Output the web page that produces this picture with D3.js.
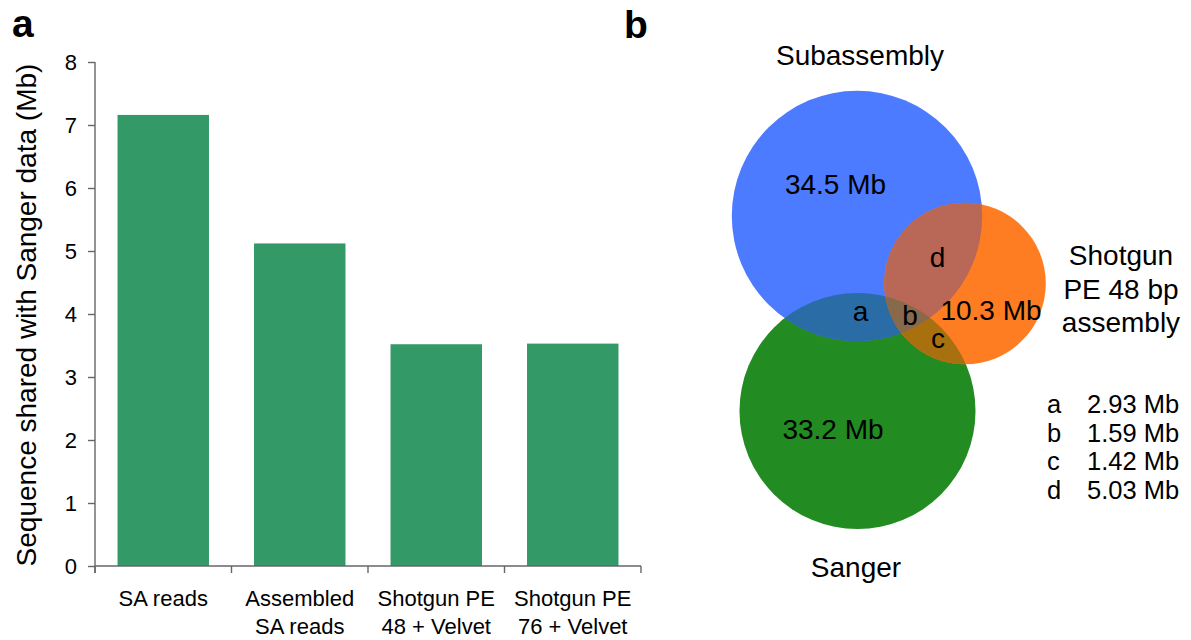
<!DOCTYPE html>
<html>
<head>
<meta charset="utf-8">
<script src="https://cdn.jsdelivr.net/npm/d3@7"></script>
<style>
  body { margin: 0; background: #fff; }
  text { font-family: "Liberation Sans", Arial, sans-serif; fill: #000; }
</style>
</head>
<body>
<svg id="fig" width="1191" height="640"></svg>
<script>
// ---- Panel a: sequence shared with Sanger data ----
const categories = ["SA reads", "Assembled SA reads", "Shotgun PE 48 + Velvet", "Shotgun PE 76 + Velvet"];
const categoryLines = [["SA reads"], ["Assembled", "SA reads"], ["Shotgun PE", "48 + Velvet"], ["Shotgun PE", "76 + Velvet"]];
const sharedMb = [7.16, 5.12, 3.52, 3.53];
const yTicks = [0, 1, 2, 3, 4, 5, 6, 7, 8];
const yTitle = "Sequence shared with Sanger data (Mb)";

// ---- Panel b: three-way overlap ----
const vennSets = ["Subassembly", "Sanger", "Shotgun PE 48 bp assembly"];
const vennSetLines = [["Subassembly"], ["Sanger"], ["Shotgun", "PE 48 bp", "assembly"]];
const uniqueMb = [34.5, 33.2, 10.3];
const overlapKeys = ["a", "b", "c", "d"];
const overlapMb = [2.93, 1.59, 1.42, 5.03];
const overlapMembers = [[0, 1], [0, 1, 2], [1, 2], [0, 2]];

const svg = d3.select("#fig");
const axisColor = "#666";

// ---------- bar chart ----------
const x = d3.scaleBand().domain(categories).range([95, 641])
  .paddingInner(0.33).paddingOuter(0.165);
const y = d3.scaleLinear().domain([0, 8]).range([566, 62]);

const gA = svg.append("g");

gA.selectAll("rect.bar").data(categories).join("rect")
  .attr("class", "bar")
  .attr("x", d => x(d))
  .attr("width", x.bandwidth())
  .attr("y", (d, i) => y(sharedMb[i]))
  .attr("height", (d, i) => y(0) - y(sharedMb[i]))
  .attr("fill", "#339966");

const yAxis = gA.append("g").attr("transform", "translate(95,0)")
  .call(d3.axisLeft(y).tickValues(yTicks).tickFormat(d3.format("d"))
    .tickSize(7).tickSizeOuter(0).tickPadding(11));
yAxis.select(".domain").attr("stroke", axisColor).attr("stroke-width", 1.4)
  .attr("d", `M0,${y(8)}V${y(0) + 7}`);
yAxis.selectAll(".tick line").attr("stroke", axisColor).attr("stroke-width", 1.4);
yAxis.selectAll(".tick text").attr("font-size", 22).attr("font-family", "Liberation Sans, Arial, sans-serif").attr("fill", "#000");

// x axis: baseline with ticks at category boundaries
const step = x.step();
const boundaries = categories.map(c => x(c) - (step - x.bandwidth()) / 2)
  .concat([x(categories[categories.length - 1]) + x.bandwidth() + (step - x.bandwidth()) / 2]);
gA.append("line")
  .attr("x1", x.range()[0]).attr("x2", x.range()[1])
  .attr("y1", y(0)).attr("y2", y(0))
  .attr("stroke", axisColor).attr("stroke-width", 1.4);
gA.selectAll("line.xtick").data(boundaries).join("line")
  .attr("class", "xtick")
  .attr("x1", d => d).attr("x2", d => d)
  .attr("y1", y(0)).attr("y2", y(0) + 7)
  .attr("stroke", axisColor).attr("stroke-width", 1.4);

gA.selectAll("text.cat").data(categories).join("text")
  .attr("class", "cat")
  .attr("text-anchor", "middle")
  .attr("font-size", 22)
  .each(function (d, i) {
    const t = d3.select(this);
    categoryLines[i].forEach((line, j) => {
      t.append("tspan")
        .attr("x", x(d) + x.bandwidth() / 2)
        .attr("y", 606 + j * 28)
        .text(line);
    });
  });

gA.append("text")
  .attr("transform", `translate(36,${(y(8) + y(0)) / 2 + 1}) rotate(-90)`)
  .attr("text-anchor", "middle")
  .attr("font-size", 28)
  .text(yTitle);

svg.append("text").attr("x", 12).attr("y", 37)
  .attr("font-size", 39).attr("font-weight", "bold").text("a");

// ---------- Venn diagram ----------
const setTotals = uniqueMb.map((u, i) =>
  u + d3.sum(overlapMb.filter((v, k) => overlapMembers[k].includes(i))));
const rScale = d3.scaleSqrt().domain([0, d3.max(setTotals)]).range([0, 125.2]);

const centers = [[857, 216], [857.5, 411], [965, 283.5]];
const setColors = ["#4c7bff", "#228b22", "#ff7d22"];
const overlapColors = { a: "#2a6ca6", b: "#876a4b", c: "#a8700f", d: "#b96857" };

const defs = svg.append("defs");
vennSets.forEach((s, i) => {
  defs.append("clipPath").attr("id", "clip" + i)
    .append("circle")
    .attr("cx", centers[i][0]).attr("cy", centers[i][1])
    .attr("r", rScale(setTotals[i]));
});

const gB = svg.append("g");
// base circles: Sanger, Subassembly, Shotgun
[1, 0, 2].forEach(i => {
  gB.append("circle")
    .attr("cx", centers[i][0]).attr("cy", centers[i][1])
    .attr("r", rScale(setTotals[i]))
    .attr("fill", setColors[i]);
});

// overlap regions: draw the last member's circle, clipped by the other members
overlapKeys.forEach((k, idx) => {
  const members = overlapMembers[idx];
  const draw = members[members.length - 1];
  let g = gB;
  members.slice(0, -1).forEach(m => {
    g = g.append("g").attr("clip-path", `url(#clip${m})`);
  });
  g.append("circle")
    .attr("cx", centers[draw][0]).attr("cy", centers[draw][1])
    .attr("r", rScale(setTotals[draw]))
    .attr("fill", overlapColors[k]);
});
// the triple region goes last so it sits above the pairwise ones
gB.selectAll("g").filter(function () { return this.querySelector("g"); }).raise();

const vennFont = 28;
// set names
const setNamePos = [[860, 65], [856, 577], [1121, 265]];
vennSetLines.forEach((lines, i) => {
  const t = svg.append("text").attr("text-anchor", "middle").attr("font-size", vennFont);
  lines.forEach((line, j) => {
    t.append("tspan").attr("x", setNamePos[i][0]).attr("y", setNamePos[i][1] + j * 33.5).text(line);
  });
});

// unique amounts
const uniquePos = [[835.5, 194], [833, 439], [991, 320]];
uniqueMb.forEach((v, i) => {
  svg.append("text").attr("x", uniquePos[i][0]).attr("y", uniquePos[i][1])
    .attr("text-anchor", "middle").attr("font-size", vennFont)
    .text(`${v} Mb`);
});

// overlap letters
const letterPos = { a: [860.5, 321], b: [910, 325], c: [938, 348], d: [937.5, 267] };
overlapKeys.forEach(k => {
  svg.append("text").attr("x", letterPos[k][0]).attr("y", letterPos[k][1])
    .attr("text-anchor", "middle").attr("font-size", vennFont).text(k);
});

// key for overlap sizes
overlapKeys.forEach((k, i) => {
  const yy = 413 + i * 28.5;
  const row = svg.append("text").attr("font-size", 25.5);
  row.append("tspan").attr("x", 1047).attr("y", yy).text(k);
  row.append("tspan").attr("x", 1087).attr("y", yy)
    .text(`${d3.format(".2f")(overlapMb[i])} Mb`);
});

svg.append("text").attr("x", 624).attr("y", 38)
  .attr("font-size", 39).attr("font-weight", "bold").text("b");
</script>
</body>
</html>
